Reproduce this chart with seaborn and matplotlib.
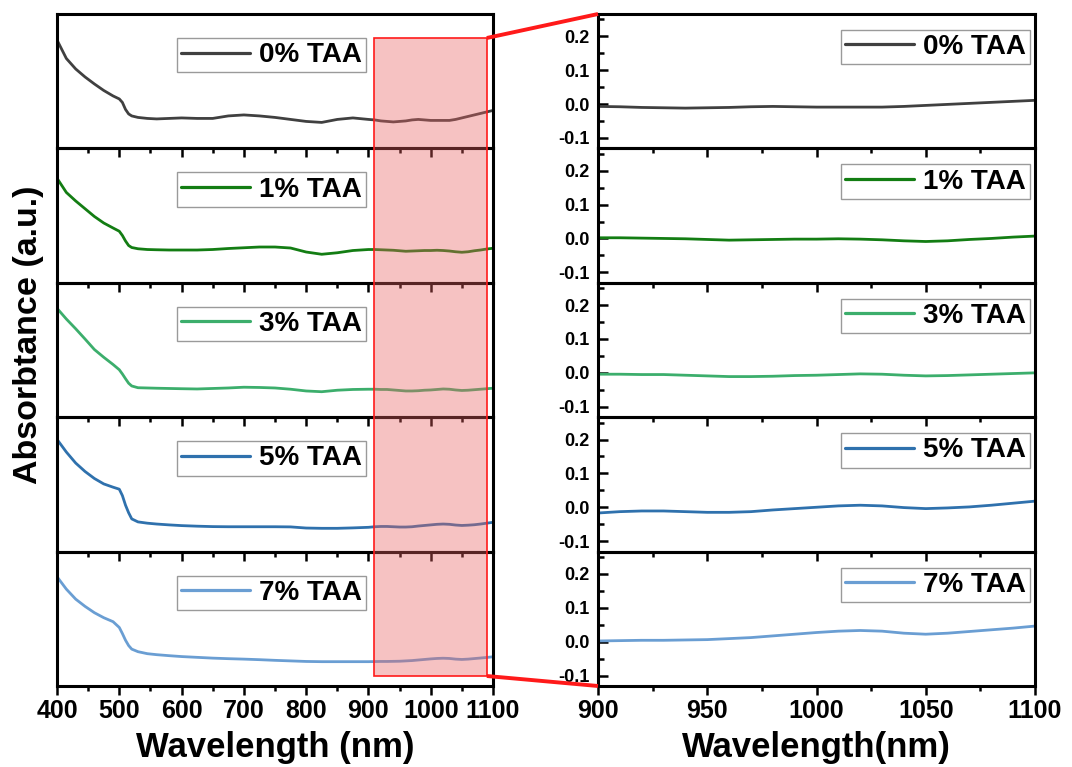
import numpy as np
import pandas as pd
import matplotlib
matplotlib.use("Agg")
import matplotlib.pyplot as plt
from matplotlib.patches import Rectangle
from matplotlib.lines import Line2D
from matplotlib.ticker import MultipleLocator, FormatStrFormatter
import seaborn as sns

# ---- spectra (absorbance, a.u.) ----
wavelength = [400, 415, 430, 445, 460, 475, 490, 500, 505, 510, 515, 520, 530, 545, 560, 580,
              600, 625, 650, 675, 700, 725, 750, 775, 800, 825, 850, 875,
              900, 910, 920, 930, 940, 950, 960, 970, 980, 990, 1000,
              1010, 1020, 1030, 1040, 1050, 1060, 1070, 1080, 1090, 1100]

taa0 = [0.152, 0.115, 0.094, 0.078, 0.064, 0.051, 0.040, 0.034, 0.027, 0.013, 0.004, 0.000, -0.003, -0.005, -0.006, -0.005,
        -0.004, -0.005, -0.005, 0.000, 0.002, 0.000, -0.003, -0.007, -0.011, -0.013, -0.007, -0.004,
        -0.007, -0.008, -0.010, -0.011, -0.012, -0.011, -0.010, -0.008, -0.007, -0.008, -0.009,
        -0.009, -0.009, -0.009, -0.007, -0.004, -0.001, 0.002, 0.005, 0.008, 0.011]

taa1 = [0.287, 0.230, 0.196, 0.165, 0.134, 0.108, 0.088, 0.075, 0.058, 0.036, 0.018, 0.010, 0.005, 0.002, 0.001, 0.000,
        0.000, 0.000, 0.002, 0.006, 0.009, 0.012, 0.012, 0.008, -0.008, -0.017, -0.011, -0.002,
        0.002, 0.002, 0.001, 0.000, -0.001, -0.003, -0.005, -0.004, -0.003, -0.002, -0.002,
        -0.001, -0.002, -0.004, -0.007, -0.009, -0.007, -0.003, 0.000, 0.004, 0.007]

taa3 = [0.320, 0.277, 0.238, 0.197, 0.155, 0.124, 0.095, 0.074, 0.057, 0.038, 0.020, 0.009, 0.002, 0.001, 0.000, -0.001,
        -0.002, -0.003, -0.001, 0.001, 0.004, 0.003, 0.001, -0.004, -0.011, -0.014, -0.008, -0.005,
        -0.004, -0.004, -0.005, -0.005, -0.007, -0.009, -0.011, -0.011, -0.010, -0.008, -0.007,
        -0.005, -0.003, -0.004, -0.007, -0.009, -0.008, -0.006, -0.004, -0.002, 0.000]

taa5 = [0.599, 0.510, 0.433, 0.374, 0.325, 0.287, 0.264, 0.250, 0.205, 0.138, 0.085, 0.042, 0.021, 0.012, 0.006, 0.000,
        -0.005, -0.009, -0.012, -0.013, -0.013, -0.013, -0.013, -0.014, -0.022, -0.024, -0.024, -0.021,
        -0.017, -0.013, -0.011, -0.011, -0.013, -0.015, -0.015, -0.013, -0.008, -0.004, 0.000,
        0.004, 0.006, 0.004, -0.001, -0.004, -0.002, 0.001, 0.006, 0.012, 0.018]

taa7 = [0.767, 0.655, 0.565, 0.500, 0.443, 0.398, 0.362, 0.310, 0.255, 0.195, 0.147, 0.115, 0.092, 0.074, 0.065, 0.056,
        0.048, 0.041, 0.034, 0.029, 0.025, 0.020, 0.014, 0.009, 0.004, 0.002, 0.002, 0.002,
        0.002, 0.003, 0.004, 0.004, 0.005, 0.006, 0.009, 0.012, 0.017, 0.022, 0.027,
        0.031, 0.033, 0.031, 0.025, 0.022, 0.025, 0.030, 0.035, 0.040, 0.046]

samples = ["0% TAA", "1% TAA", "3% TAA", "5% TAA", "7% TAA"]
series = [taa0, taa1, taa3, taa5, taa7]
colors = ["#404040", "#137d13", "#3cae6c", "#2f71ad", "#6a9ed3"]

# full-range y limits of each stacked panel
full_ylims = [(-0.065, 0.204), (-0.131, 0.406), (-0.116, 0.422), (-0.187, 0.754), (-0.217, 0.993)]
zoom_ylim = (-0.131, 0.266)
zoom_range = (900, 1100)
highlight = (909, 1090)

df = pd.concat(
    [pd.DataFrame({"wavelength": wavelength, "absorbance": vals, "sample": name})
     for name, vals in zip(samples, series)],
    ignore_index=True,
)

sns.set_theme(style="ticks")
plt.rcParams.update({
    "font.family": ["Liberation Sans", "DejaVu Sans"],
    "font.weight": "bold",
    "axes.unicode_minus": False,
    "axes.linewidth": 2.2,
    "axes.edgecolor": "black",
    "xtick.color": "black",
    "ytick.color": "black",
    "text.color": "black",
})

W, H = 1072, 767
fig = plt.figure(figsize=(W / 100, H / 100), dpi=100)
fig.patch.set_facecolor("white")

top_px, bot_px = 14, 686
panel_h = (bot_px - top_px) / 5
left_x0, left_x1 = 57, 493
right_x0, right_x1 = 598, 1035

axes_left, axes_right = [], []
for i, (name, color) in enumerate(zip(samples, colors)):
    y0 = 1 - (top_px + (i + 1) * panel_h) / H
    h = panel_h / H
    axL = fig.add_axes([left_x0 / W, y0, (left_x1 - left_x0) / W, h])
    axR = fig.add_axes([right_x0 / W, y0, (right_x1 - right_x0) / W, h])
    for ax in (axL, axR):
        ax.patch.set_alpha(0)
        for sp in ax.spines.values():
            sp.set_visible(True)
            sp.set_linewidth(2.2)

    sub = df[df["sample"] == name]
    sns.lineplot(data=sub, x="wavelength", y="absorbance", color=color, lw=2.0,
                 estimator=None, ax=axL, label=name)
    subz = sub[(sub["wavelength"] >= zoom_range[0]) & (sub["wavelength"] <= zoom_range[1])]
    sns.lineplot(data=subz, x="wavelength", y="absorbance", color=color, lw=2.0,
                 estimator=None, ax=axR, label=name)

    # left: full spectrum
    axL.set_xlim(400, 1100)
    axL.set_ylim(*full_ylims[i])
    axL.set_yticks([])
    axL.xaxis.set_major_locator(MultipleLocator(100))
    axL.xaxis.set_minor_locator(MultipleLocator(50))
    axL.tick_params(axis="x", which="major", direction="out", length=6.5, width=1.8,
                    labelsize=18, pad=3, labelbottom=(i == 4))
    axL.tick_params(axis="x", which="minor", direction="out", length=3.8, width=1.8)

    # right: zoomed 900-1100 nm window
    axR.set_xlim(*zoom_range)
    axR.set_ylim(*zoom_ylim)
    axR.xaxis.set_major_locator(MultipleLocator(50))
    axR.xaxis.set_minor_locator(MultipleLocator(25))
    axR.yaxis.set_major_locator(MultipleLocator(0.1))
    axR.yaxis.set_minor_locator(MultipleLocator(0.05))
    axR.yaxis.set_major_formatter(FormatStrFormatter("%.1f"))
    axR.tick_params(axis="x", which="major", direction="out", length=6.5, width=1.8,
                    labelsize=18, pad=3, labelbottom=(i == 4))
    axR.tick_params(axis="x", which="minor", direction="out", length=3.8, width=1.8)
    axR.tick_params(axis="y", which="major", direction="in", length=7, width=1.8,
                    labelsize=13, pad=6)
    axR.tick_params(axis="y", which="minor", direction="in", length=4.5, width=1.8)

    for ax, anchor in ((axL, (0.709, 0.821)), (axR, (0.989, 0.881))):
        ax.set_xlabel("")
        ax.set_ylabel("")
        leg = ax.legend(loc="upper right", bbox_to_anchor=anchor, borderaxespad=0,
                        fontsize=20, handlelength=2.5, handletextpad=0.32,
                        borderpad=0.15, fancybox=False, framealpha=1,
                        edgecolor="#9a9a9a")
        leg.get_frame().set_linewidth(1.0)
        for line in leg.get_lines():
            line.set_linewidth(2.3)

    axes_left.append(axL)
    axes_right.append(axR)

# axis titles
fig.text((left_x0 + left_x1) / 2 / W, 1 - 757 / H, "Wavelength (nm)", ha="center",
         va="baseline", fontsize=25, fontweight="bold")
fig.text((right_x0 + right_x1) / 2 / W, 1 - 757 / H, "Wavelength(nm)", ha="center",
         va="baseline", fontsize=25, fontweight="bold")
fig.text(29 / W, 1 - 335 / H, "Absorbtance (a.u.)", ha="center", va="center",
         rotation=90, fontsize=24.5, fontweight="bold")

# highlighted zoom window and connector lines
to_fig = fig.transFigure.inverted()
xa = to_fig.transform(axes_left[-1].transData.transform((highlight[0], 0)))[0]
xb = to_fig.transform(axes_left[-1].transData.transform((highlight[1], 0)))[0]
ya = to_fig.transform(axes_left[0].transAxes.transform((0, 0.8214)))[1]
yb = to_fig.transform(axes_left[-1].transAxes.transform((0, 0.0744)))[1]
fig.add_artist(Rectangle((xa, yb), xb - xa, ya - yb, transform=fig.transFigure,
                         facecolor="#e86060", alpha=0.38, edgecolor="none", zorder=5))
fig.add_artist(Rectangle((xa, yb), xb - xa, ya - yb, transform=fig.transFigure,
                         facecolor="none", edgecolor="#ff1a1a", lw=1.2, zorder=6))
rt = to_fig.transform(axes_right[0].transAxes.transform((0, 1)))
rb = to_fig.transform(axes_right[-1].transAxes.transform((0, 0)))
fig.add_artist(Line2D([xb, rt[0]], [ya, rt[1]], transform=fig.transFigure,
                      color="#ff1a1a", lw=2.8, zorder=6, solid_capstyle="butt"))
fig.add_artist(Line2D([xb, rb[0]], [yb, rb[1]], transform=fig.transFigure,
                      color="#ff1a1a", lw=2.8, zorder=6, solid_capstyle="butt"))

fig.savefig("out.png", dpi=100, facecolor="white")
